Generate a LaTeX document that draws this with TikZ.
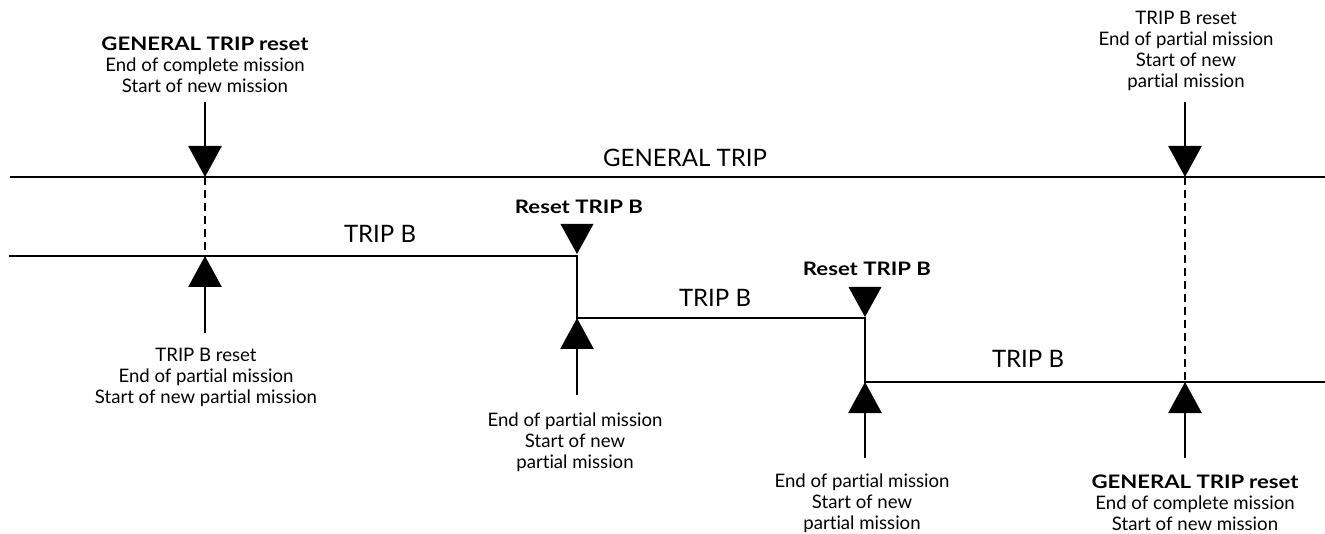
\documentclass[tikz,border=0pt]{standalone}
\usepackage{fontspec}
\setmainfont{Lato}[Ligatures={NoCommon},BoldFeatures={FakeStretch=1.19}]
\usetikzlibrary{arrows.meta}
\begin{document}
\begin{tikzpicture}[x=1pt,y=-1pt,
  line/.style={line width=2.8pt},
  stem/.style={line width=2.6pt,-{Triangle[width=33pt,length=31pt]}},
  dashline/.style={line width=2.4pt,dash pattern=on 8pt off 5pt},
  tri/.style={fill=black},
  lbl/.style={align=center,inner sep=0pt,font=\fontsize{18.6}{21}\selectfont},
  seg/.style={inner sep=0pt,font=\fontsize{24}{26}\selectfont}]
\useasboundingbox (0,0) rectangle (1325,534);
% coordinates
\coordinate (g0) at (10,177);
\coordinate (g1) at (1325,177);
\coordinate (b0) at (9,256);
\coordinate (r1a) at (577,256);
\coordinate (r1b) at (577,318);
\coordinate (r2a) at (865,318);
\coordinate (r2b) at (865,382);
\coordinate (b3) at (1325,382);
\coordinate (a1top) at (205,102);
\coordinate (a1g) at (205,177);
\coordinate (a1b) at (205,256);
\coordinate (a1bot) at (205,333);
\coordinate (r1bot) at (577,395);
\coordinate (r2bot) at (865,458);
\coordinate (a4top) at (1185,102);
\coordinate (a4g) at (1185,177);
\coordinate (a4b) at (1185,382);
\coordinate (a4bot) at (1185,458);
% lines
\draw[line] (g0) -- (g1);
\draw[line] (b0) -- (r1a) -- (r1b) -- (r2a) -- (r2b) -- (b3);
% line labels
\node[seg] (lg) at (685,158) {GENERAL TRIP};
\node[seg] (lb1) at (380,234) {TRIP B};
\node[seg] (lb2) at (715,298) {TRIP B};
\node[seg] (lb3) at (1028,359) {TRIP B};
% arrows
\draw[stem] (a1top) -- (a1g);
\draw[dashline] (a1g) -- (a1b);
\draw[stem] (a1bot) -- (a1b);
\fill[tri] ([xshift=-16.5pt,yshift=32pt]r1a) -- ([xshift=16.5pt,yshift=32pt]r1a) -- ([yshift=2pt]r1a) -- cycle;
\draw[stem] (r1bot) -- (r1b);
\fill[tri] ([xshift=-16.5pt,yshift=31pt]r2a) -- ([xshift=16.5pt,yshift=31pt]r2a) -- ([yshift=1pt]r2a) -- cycle;
\draw[stem] (r2bot) -- (r2b);
\draw[stem] (a4top) -- (a4g);
\draw[dashline] (a4g) -- (a4b);
\draw[stem] (a4bot) -- (a4b);
% text labels
\node[lbl] (t1) at (205,65) {\textbf{GENERAL TRIP} \textbf{reset}\\End of complete mission\\Start of new mission};
\node[lbl] (t2) at (206,377) {TRIP B reset\\End of partial mission\\Start of new partial mission};
\node[lbl] (t3) at (579,207) {\textbf{Reset TRIP B}};
\node[lbl] (t4) at (575,442) {End of partial mission\\Start of new\\partial mission};
\node[lbl] (t5) at (867,269) {\textbf{Reset TRIP B}};
\node[lbl] (t6) at (862,503) {End of partial mission\\Start of new\\partial mission};
\node[lbl] (t7) at (1186,51) {TRIP B reset\\End of partial mission\\Start of new\\partial mission};
\node[lbl] (t8) at (1195,503) {\textbf{GENERAL TRIP} \textbf{reset}\\End of complete mission\\Start of new mission};
\end{tikzpicture}
\end{document}
